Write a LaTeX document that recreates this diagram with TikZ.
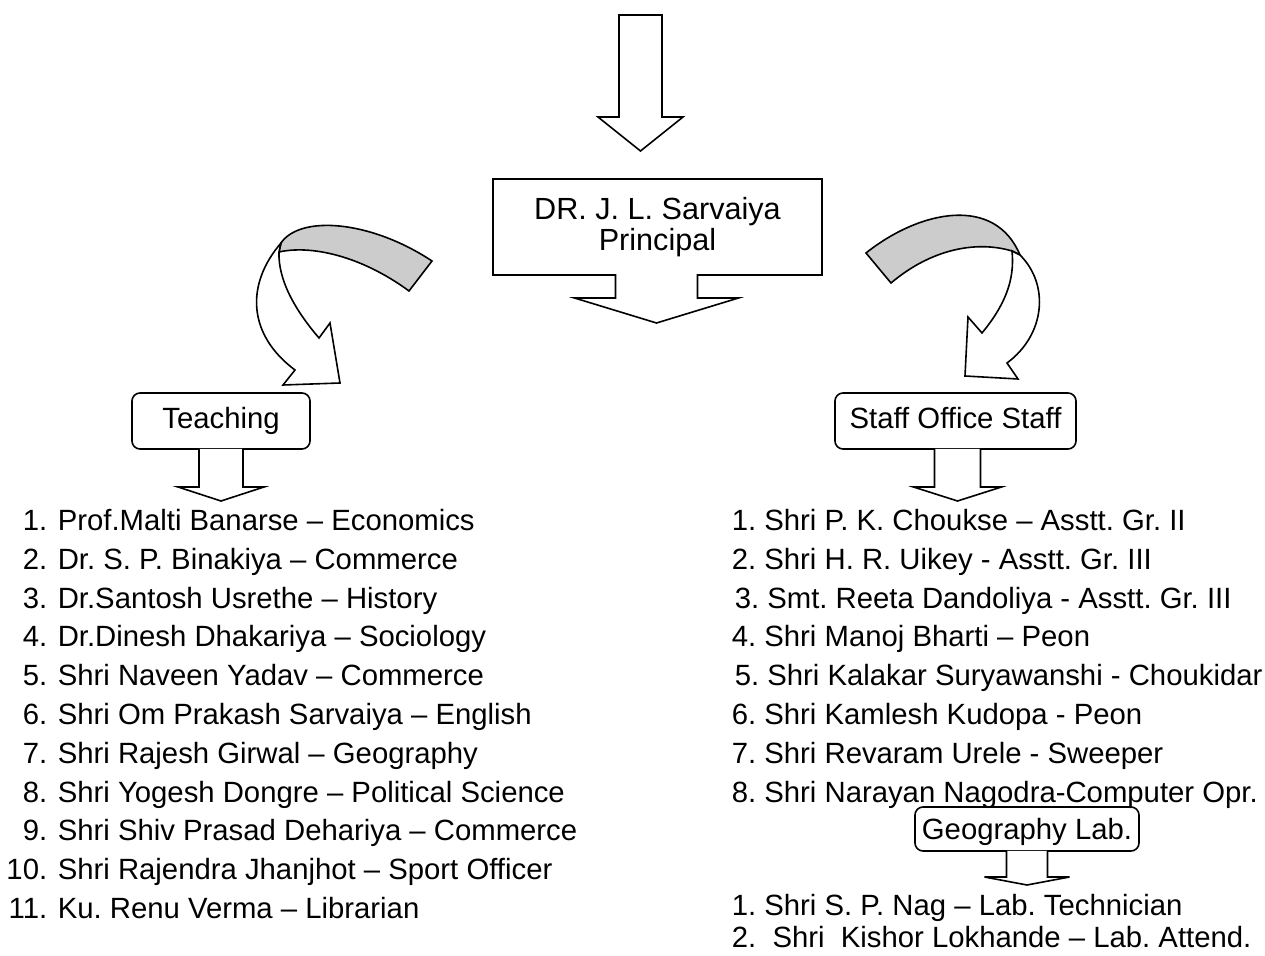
\documentclass[tikz,border=0pt]{standalone}
\usepackage{fontspec}
\setmainfont{Liberation Sans}
\usetikzlibrary{calc}
\frenchspacing

\begin{document}
\begin{tikzpicture}[
  x=0.5pt, y=-0.5pt,
  font=\fontsize{14.65}{15.5}\selectfont,
  line width=0.8pt,
  blockarr/.style={draw,fill=white},
  ribbon/.style={draw,fill=black!20},
  unit/.style={draw,rounded corners=4pt,minimum height=28pt,inner sep=0pt,
               outer sep=0pt,text height=10.5pt,text depth=3pt},
  item/.style={anchor=base west,inner sep=0pt},
  num/.style={anchor=base east,inner sep=0pt}
]
\useasboundingbox (0,0) rectangle (1265,956);

% incoming arrow
\draw[blockarr] (619,15) -- (662,15) -- (662,117) -- (683,117)
  -- (640.5,151) -- (598,117) -- (619,117) -- cycle;

% principal callout
\node[minimum width=164.5pt,minimum height=48pt,align=center,inner sep=0pt,
  outer sep=0pt,font=\fontsize{15.3}{15.5}\selectfont] (pr) at (657.5,227)
  {DR. J. L. Sarvaiya\\Principal};
\draw (pr.south west) -- (pr.north west) -- (pr.north east)
  -- (pr.south east) -- ($(pr.south)+(40,0)$) -- ++(0,23) -- ++(41,0)
  -- ++(-82,25) -- ++(-82,-25) -- ++(41,0) -- ++(0,-23) -- cycle;

% left curved arrow
\draw[ribbon] (281,243) .. controls (300,215) and (370,220) .. (432,261)
  -- (409,291) .. controls (360,255) and (310,245) .. (279,252) -- cycle;
\draw[blockarr] (281,243) .. controls (245,285) and (248,335) .. (295,370)
  -- (283,385) -- (340,383) -- (330,323) -- (319,338)
  .. controls (295,310) and (278,280) .. (279,252) -- cycle;

% right curved arrow
\draw[ribbon] (866,253) .. controls (920,210) and (995,195) .. (1020,255)
  -- (1012,251) .. controls (975,240) and (930,250) .. (891,283) -- cycle;
\draw[blockarr] (1020,255) .. controls (1050,285) and (1045,335) .. (1007,363)
  -- (1018,379) -- (965,376) -- (968,317) -- (982,333)
  .. controls (1005,305) and (1015,280) .. (1012,251) -- cycle;

% groups
\node[unit,minimum width=89pt] (teach) at (221,421) {Teaching};
\node[unit,minimum width=120.5pt] (staff) at (955.5,421) {Staff Office Staff};
\node[unit,minimum width=112pt,minimum height=22pt,text depth=0pt]
  (geo) at (1027,829) {Geography Lab.};
\draw[blockarr] ($(teach.south)+(-22,0)$) -- ++(0,38) -- ++(-21,0)
  -- ++(43,14) -- ++(43,-14) -- ++(-21,0) -- ++(0,-38);
\draw[blockarr] ($(staff.south)+(-21,0)$) -- ++(0,38) -- ++(-21,0)
  -- ++(44,14) -- ++(44,-14) -- ++(-21,0) -- ++(0,-38);
\draw[blockarr] ($(geo.south)+(-20.5,0)$) -- ++(0,26) -- ++(-22,0)
  -- ++(42.5,8) -- ++(42.5,-8) -- ++(-22,0) -- ++(0,-26);

% teaching staff
\foreach \t [count=\i] in {Prof.Malti Banarse -- Economics,
  Dr. S. P. Binakiya -- Commerce, Dr.Santosh Usrethe -- History,
  Dr.Dinesh Dhakariya -- Sociology, Shri Naveen Yadav -- Commerce,
  Shri Om Prakash Sarvaiya -- English, Shri Rajesh Girwal -- Geography,
  Shri Yogesh Dongre -- Political Science,
  Shri Shiv Prasad Dehariya -- Commerce,
  Shri Rajendra Jhanjhot -- Sport Officer, Ku. Renu Verma -- Librarian}
{
  \node[num] (n\i) at (48,{530.5+38.8*(\i-1)}) {\i.};
  \node[item] (t\i) at (57,{530.5+38.8*(\i-1)}) {\t};
}

% office staff
\foreach \t/\dx [count=\i] in {Shri P. K. Choukse -- Asstt. Gr. II/0,
  Shri H. R. Uikey - Asstt. Gr. III/0, Smt. Reeta Dandoliya - Asstt. Gr. III/3,
  Shri Manoj Bharti -- Peon/0, Shri Kalakar Suryawanshi - Choukidar/3,
  Shri Kamlesh Kudopa - Peon/0, Shri Revaram Urele - Sweeper/0,
  Shri Narayan Nagodra-Computer Opr./0}
{
  \node[item] (s\i) at ({731+\dx},{530.5+38.8*(\i-1)}) {\i. \t};
}

% lab staff
\node[item] (l1) at (731,916) {1. Shri S. P. Nag -- Lab. Technician};
\node[item,text depth=0pt] (l2) at (731,948)
  {2.\ \ Shri\ \ Kishor Lokhande -- Lab. Attend.};
\end{tikzpicture}
\end{document}
